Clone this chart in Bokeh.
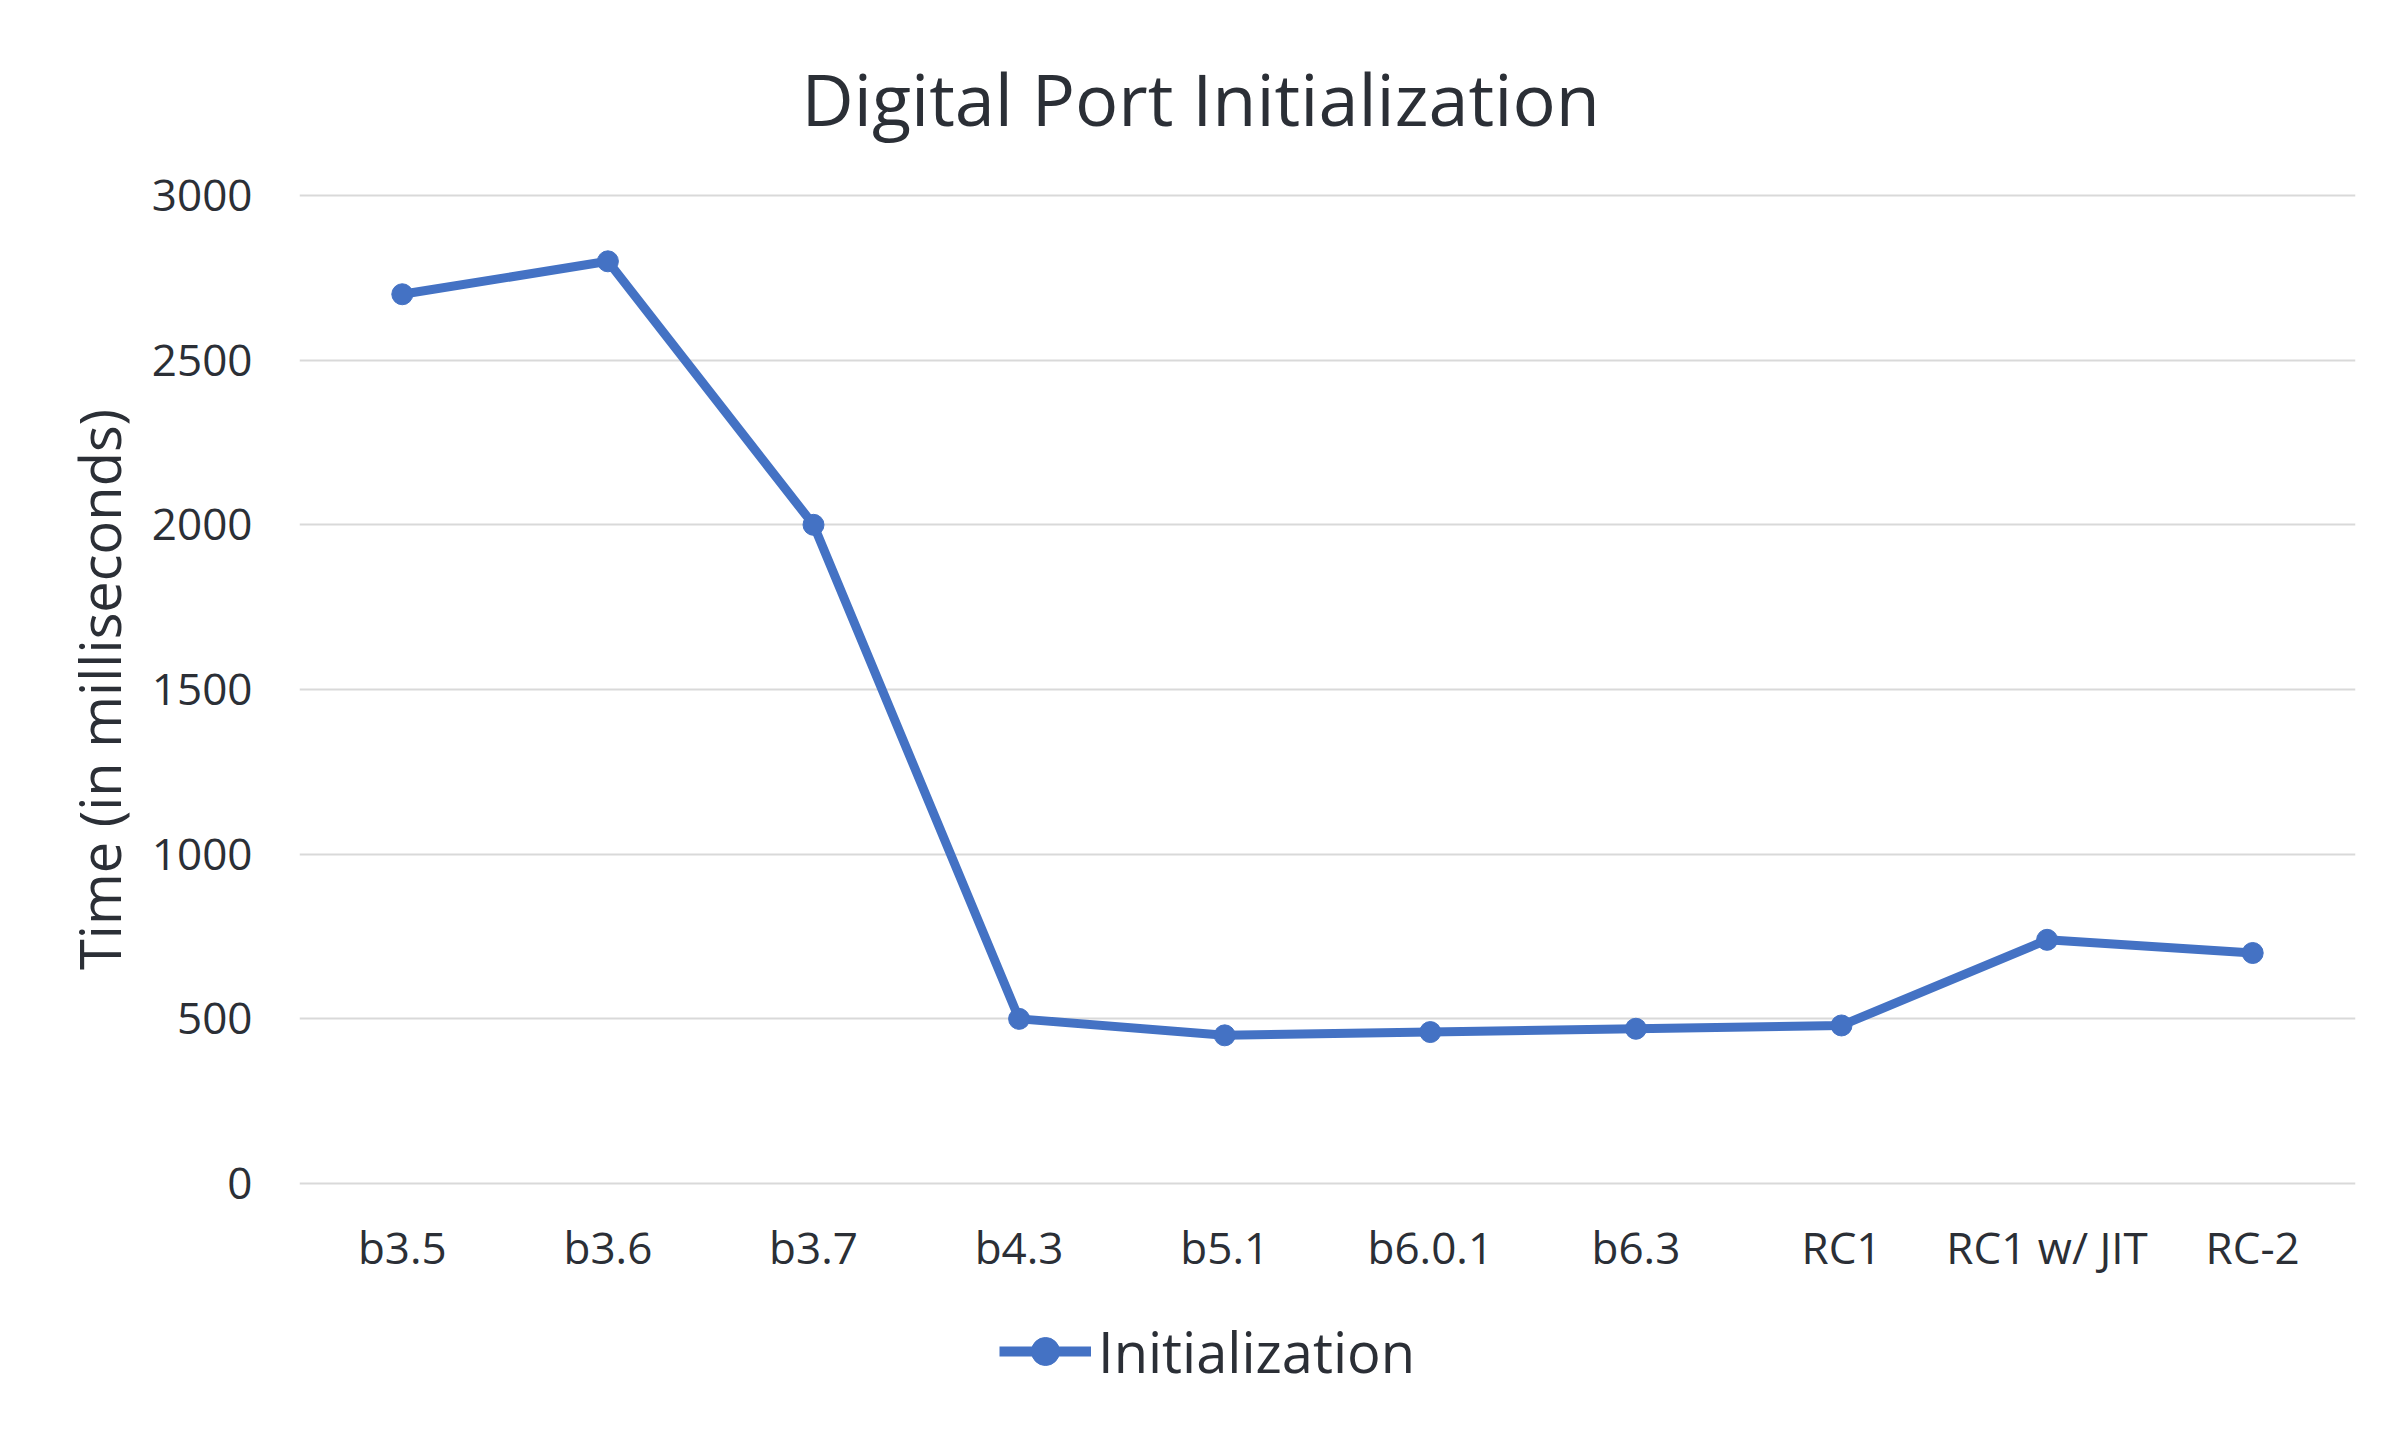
from bokeh.plotting import figure
from bokeh.layouts import column
from bokeh.models import Legend, LegendItem, FactorRange, Range1d, FixedTicker, Title
from bokeh.embed import file_html
from bokeh.resources import INLINE

categories = ["b3.5", "b3.6", "b3.7", "b4.3", "b5.1", "b6.0.1", "b6.3", "RC1", "RC1 w/ JIT", "RC-2"]
init_ms = [2700, 2800, 2000, 500, 450, 460, 470, 480, 740, 700]
y_ticks = [0, 500, 1000, 1500, 2000, 2500, 3000]
chart_title = "Digital Port Initialization"
y_title = "Time (in milliseconds)"
series_name = "Initialization"

TEXT = "#2b2f36"
BLUE = "#4472C4"
FONT = "Open Sans"

W = 2390
H1, H2 = 1300, 120

p = figure(width=W, height=H1, x_range=FactorRange(*categories, range_padding=0),
           y_range=Range1d(-15, 3015), output_backend="svg", toolbar_location=None,
           min_border_left=299, min_border_right=35, min_border_top=190,
           min_border_bottom=H1 - 1188)
p.outline_line_color = None
p.background_fill_color = "white"
p.border_fill_color = "white"

p.line(categories, init_ms, line_color=BLUE, line_width=9)
p.scatter(categories, init_ms, size=21, fill_color=BLUE, line_color=BLUE, marker="circle")

p.xgrid.grid_line_color = None
p.ygrid.grid_line_color = "#d9d9d9"
p.ygrid.grid_line_width = 2
p.yaxis.ticker = FixedTicker(ticks=y_ticks)

for ax in (p.xaxis[0], p.yaxis[0]):
    ax.axis_line_color = None
    ax.major_tick_line_color = None
    ax.minor_tick_line_color = None
    ax.major_label_text_font = FONT
    ax.major_label_text_font_size = "44px"
    ax.major_label_text_color = TEXT

p.xaxis.major_label_standoff = 22
p.yaxis.major_label_standoff = 41
p.yaxis.axis_label = y_title
p.yaxis.axis_label_text_font = FONT
p.yaxis.axis_label_text_font_size = "56px"
p.yaxis.axis_label_text_font_style = "normal"
p.yaxis.axis_label_text_color = TEXT
p.yaxis.axis_label_standoff = 12

title = Title(text=chart_title, align="left", offset=502,
              text_font=FONT, text_font_size="72px", text_font_style="normal",
              text_color=TEXT, standoff=87)
p.add_layout(title, "above")

# legend strip below the chart
lg = figure(width=W, height=H2, x_range=FactorRange(*categories, range_padding=0),
            y_range=Range1d(100000, 100001), output_backend="svg", toolbar_location=None,
            min_border=0)
lg.axis.visible = False
lg.grid.visible = False
lg.outline_line_color = None
lg.border_fill_color = "white"
l_line = lg.line(categories, init_ms, line_color=BLUE, line_width=10)
l_dots = lg.scatter(categories, init_ms, size=21, fill_color=BLUE, line_color=BLUE, marker="circle")

legend = Legend(items=[LegendItem(label=series_name, renderers=[l_line, l_dots])],
                location=(700, 31), orientation="horizontal",
                label_text_font=FONT, label_text_font_size="56px", label_text_color=TEXT,
                glyph_width=92, glyph_height=70, label_standoff=7, padding=0, margin=0,
                border_line_color=None, background_fill_alpha=0)
lg.add_layout(legend, "center")

layout = column(p, lg, spacing=0)
open("out.html", "w").write(file_html(layout, INLINE))
